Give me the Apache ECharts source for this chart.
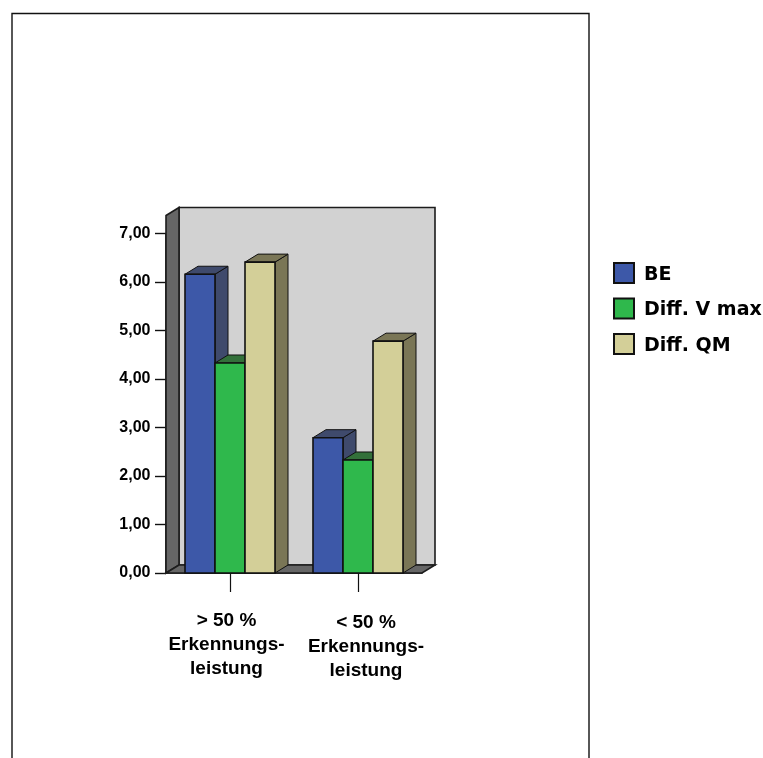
<!DOCTYPE html>
<html>
<head>
<meta charset="utf-8">
<style>html,body{margin:0;padding:0;background:#fff}#chart{width:763px;height:758px}</style>
<script src="https://cdn.jsdelivr.net/npm/echarts@6/dist/echarts.min.js"></script>
</head>
<body>
<div id="chart"></div>
<script>
const categories = ['> 50 %\nErkennungs-\nleistung', '< 50 %\nErkennungs-\nleistung'];
const valuesBE = [6.16, 2.79];
const valuesVmax = [4.33, 2.33];
const valuesQM = [6.41, 4.78];
const seriesNames = ['BE', 'Diff. V max', 'Diff. QM'];
const frontColors = ['#3d58a8', '#2fb84c', '#d3cf98'];
const shadeColors = ['#3f4a6c', '#33703a', '#7a7656'];

const DEPTH_X = 13, DEPTH_Y = 8, BAR_W = 30;
const WALL_TOP = 7.37;
const EDGE = '#111';

// Box-shaped bar: front face, roof and right-hand side, placed by the axes.
function boxRenderer(slot) {
  return function (params, api) {
    const base = api.coord([api.value(0), 0]);
    const top = api.coord([api.value(0), api.value(1)]);
    const x0 = base[0] + (slot - 1.5) * BAR_W;
    const x1 = x0 + BAR_W;
    const yT = top[1], yB = base[1];
    const line = { stroke: EDGE, lineWidth: 1.6 };
    return {
      type: 'group',
      children: [
        { type: 'polygon', shape: { points: [[x1, yT], [x1 + DEPTH_X, yT - DEPTH_Y], [x1 + DEPTH_X, yB - DEPTH_Y], [x1, yB]] },
          style: Object.assign({ fill: shadeColors[slot] }, line, { lineWidth: 1 }) },
        { type: 'polygon', shape: { points: [[x0, yT], [x0 + DEPTH_X, yT - DEPTH_Y], [x1 + DEPTH_X, yT - DEPTH_Y], [x1, yT]] },
          style: Object.assign({ fill: shadeColors[slot] }, line, { lineWidth: 1 }) },
        { type: 'rect', shape: { x: x0, y: yT, width: BAR_W, height: yB - yT },
          style: Object.assign({ fill: frontColors[slot] }, line) }
      ]
    };
  };
}

// Back wall, left wall and floor of the plot box.
function wallsRenderer(params, api) {
  const cs = params.coordSys;
  const yB = api.coord([0, 0])[1];
  const yT = api.coord([0, WALL_TOP])[1];
  const xL = cs.x, xR = cs.x + cs.width;
  const line = { stroke: '#1c1c1c', lineWidth: 1.6 };
  return {
    type: 'group',
    children: [
      { type: 'polygon', shape: { points: [[xL + DEPTH_X, yT - DEPTH_Y], [xR + DEPTH_X, yT - DEPTH_Y], [xR + DEPTH_X, yB - DEPTH_Y], [xL + DEPTH_X, yB - DEPTH_Y]] },
        style: Object.assign({ fill: '#d2d2d2' }, line) },
      { type: 'polygon', shape: { points: [[xL, yB], [xL + DEPTH_X, yB - DEPTH_Y], [xL + DEPTH_X, yT - DEPTH_Y], [xL, yT]] },
        style: Object.assign({ fill: '#666666' }, line) },
      { type: 'polygon', shape: { points: [[xL, yB], [xR, yB], [xR + DEPTH_X, yB - DEPTH_Y], [xL + DEPTH_X, yB - DEPTH_Y]] },
        style: Object.assign({ fill: '#666666' }, line) }
    ]
  };
}

function toPairs(values) { return values.map((v, i) => [i, v]); }

const legendText = { fontFamily: 'DejaVu Sans', fontWeight: 'bold', fontSize: 19, color: '#000' };

const chart = echarts.init(document.getElementById('chart'), null, { renderer: 'canvas' });
chart.setOption({
  animation: false,
  backgroundColor: '#fff',
  grid: { left: 166, width: 256, top: 233.5, height: 339.5 },
  graphic: [{
    type: 'polyline', silent: true, z: 0,
    shape: { points: [[12, 770], [12, 13.5], [589, 13.5], [589, 770]] },
    style: { stroke: '#111', lineWidth: 1.4, fill: null }
  }],
  legend: {
    orient: 'vertical', left: 613, top: 262, padding: 0,
    itemWidth: 20, itemHeight: 20, itemGap: 13,
    icon: 'rect', data: seriesNames,
    formatter: name => '{t|' + name + '}',
    textStyle: Object.assign({}, legendText, {
      rich: { t: Object.assign({}, legendText, { padding: [4, 0, 0, 5] }) }
    })
  },
  xAxis: {
    type: 'category',
    data: [
      { value: categories[0], textStyle: { padding: [0, 7, 0, 0] } },
      { value: categories[1], textStyle: { padding: [2, 0, 0, 16] } }
    ],
    axisLine: { lineStyle: { color: '#000', width: 1.6 } },
    axisTick: { show: true, alignWithLabel: true, length: 19, lineStyle: { color: '#111', width: 1.2 } },
    axisLabel: {
      margin: 36, interval: 0, fontFamily: 'Liberation Sans', fontWeight: 'bold',
      fontSize: 19, color: '#000', lineHeight: 24
    }
  },
  yAxis: {
    type: 'value', min: 0, max: 7, interval: 1,
    splitLine: { show: false },
    axisLine: { show: true, lineStyle: { color: '#111', width: 1.6 } },
    axisTick: { show: true, length: 11, lineStyle: { color: '#111', width: 1.4 } },
    axisLabel: {
      margin: 15.5, fontFamily: 'Liberation Sans', fontWeight: 'bold', fontSize: 16, color: '#000',
      formatter: v => v.toFixed(2).replace('.', ',')
    }
  },
  series: [
    { type: 'custom', name: 'walls', renderItem: wallsRenderer, data: [[0, 0]], encode: { x: 0, y: 1 }, silent: true, z: 1 },
    { type: 'custom', name: seriesNames[0], renderItem: boxRenderer(0), data: toPairs(valuesBE), encode: { x: 0, y: 1 }, z: 2,
      itemStyle: { color: frontColors[0], borderColor: EDGE, borderWidth: 1.4 } },
    { type: 'custom', name: seriesNames[1], renderItem: boxRenderer(1), data: toPairs(valuesVmax), encode: { x: 0, y: 1 }, z: 2,
      itemStyle: { color: frontColors[1], borderColor: EDGE, borderWidth: 1.4 } },
    { type: 'custom', name: seriesNames[2], renderItem: boxRenderer(2), data: toPairs(valuesQM), encode: { x: 0, y: 1 }, z: 2,
      itemStyle: { color: frontColors[2], borderColor: EDGE, borderWidth: 1.4 } }
  ]
});
</script>
</body>
</html>
